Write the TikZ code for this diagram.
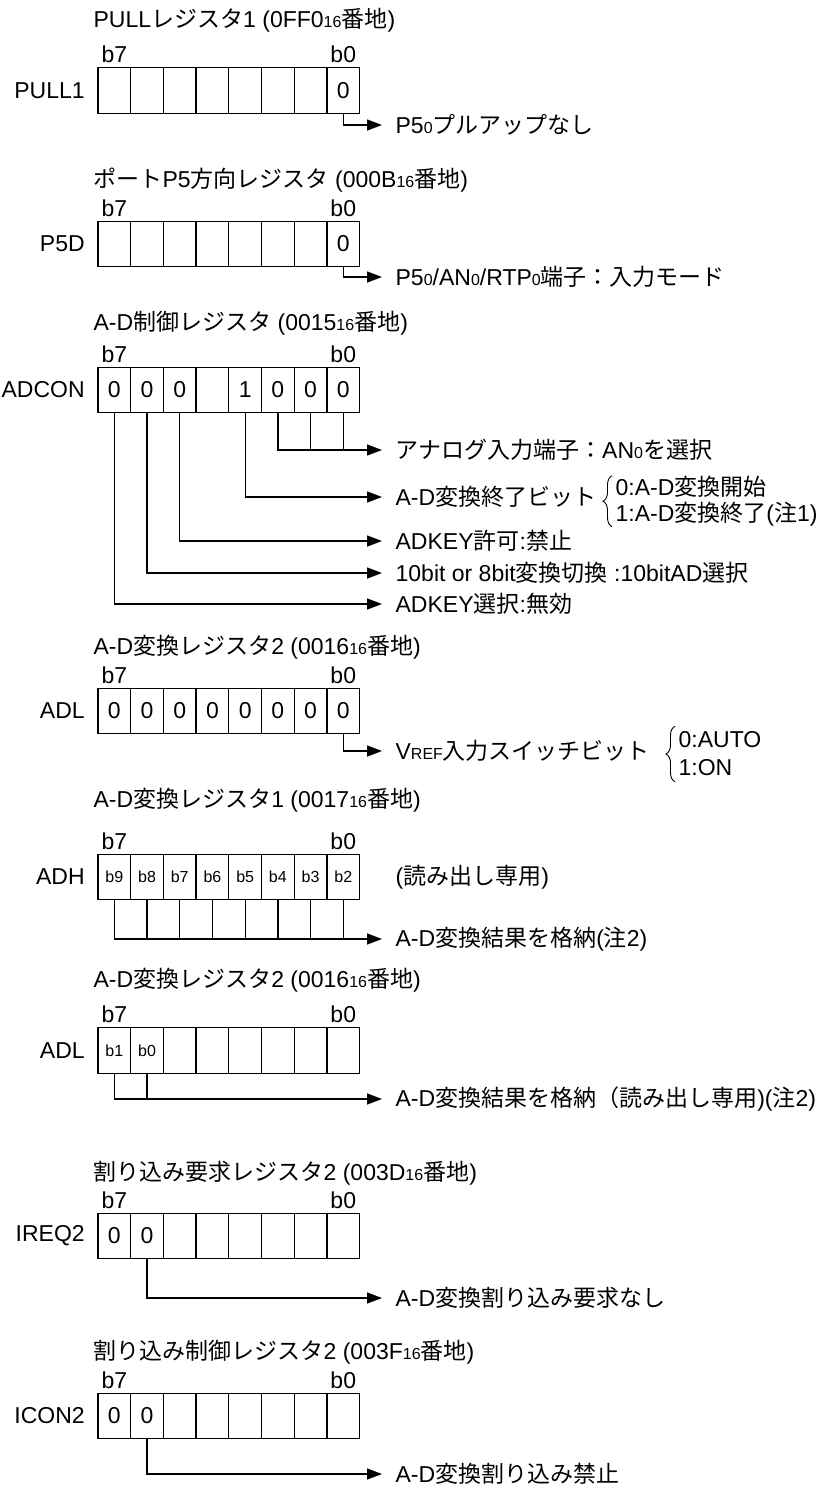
\documentclass[tikz,border=0pt]{standalone}
\usepackage{fontspec}
\setmainfont{Liberation Sans}
\newfontfamily\jp{Noto Sans CJK JP}
\usetikzlibrary{positioning,arrows.meta,decorations.pathreplacing}
\def\idx#1{{\fontsize{16}{16}\selectfont#1}}
\tikzset{
  cell/.style={draw,minimum width=32.7pt,minimum height=45.5pt,inner sep=0pt},
  bits/.style={font=\fontsize{16}{16}\selectfont},
  reg/.style={inner sep=0pt},
  title/.style={anchor=west,inner sep=0pt},
  note/.style={anchor=west,inner xsep=13pt,inner ysep=0pt},
  opt/.style={anchor=west,inner sep=0pt},
  arr/.style={-{Triangle[length=15pt,width=11pt]}},
  brc/.style={decorate,decoration={brace,amplitude=9pt},line width=0.9pt},
}

\begin{document}
\begin{tikzpicture}[x=1pt,y=-1pt,line width=1.3pt,font=\fontsize{23}{26}\selectfont]%<<<
\useasboundingbox (0,0) rectangle (819,1488);

% PULL1
\node[title] (pull-t) at (93,20) {PULL{\jp レジスタ}1 (0FF0\idx{16}{\jp 番地})};
\foreach \v [count=\i from 0] in {{},{},{},{},{},{},{},0}
  \node[cell] (pull-\i) at (114.35+32.7*\i,90.5) {\v};
\node[reg,left=12pt of pull-0] (pull-n) {PULL1};
\node[above=0pt of pull-0] (pull-b7) {b7};
\node[above=0pt of pull-7] (pull-b0) {b0};
\node[note] (pull-up) at (382,125) {P5\idx{0}{\jp プルアップなし}};
\draw[arr] (pull-7.south) |- (pull-up.west);

% P5D
\node[title] (p5d-t) at (93,180) {{\jp ポート}P5{\jp 方向レジスタ} (000B\idx{16}{\jp 番地})};
\foreach \v [count=\i from 0] in {{},{},{},{},{},{},{},0}
  \node[cell] (p5d-\i) at (114.35+32.7*\i,244) {\v};
\node[reg,left=12pt of p5d-0] (p5d-n) {P5D};
\node[above=0pt of p5d-0] (p5d-b7) {b7};
\node[above=0pt of p5d-7] (p5d-b0) {b0};
\node[note] (p5d-in) at (382,277) {P5\idx{0}/AN\idx{0}/RTP\idx{0}{\jp 端子：入力モード}};
\draw[arr] (p5d-7.south) |- (p5d-in.west);

% ADCON
\node[title] (adcon-t) at (93,323) {A-D{\jp 制御レジスタ} (0015\idx{16}{\jp 番地})};
\foreach \v [count=\i from 0] in {0,0,0,{},1,0,0,0}
  \node[cell] (adcon-\i) at (114.35+32.7*\i,390) {\v};
\node[reg,left=12pt of adcon-0] (adcon-n) {ADCON};
\node[above=0pt of adcon-0] (adcon-b7) {b7};
\node[above=0pt of adcon-7] (adcon-b0) {b0};
\node[note] (adcon-ana) at (382,450) {{\jp アナログ入力端子：}AN\idx{0}{\jp を選択}};
\node[note] (adcon-end) at (382,497) {A-D{\jp 変換終了ビット}};
\node[opt] (adcon-start) at (615,487) {0:A-D{\jp 変換開始}};
\node[opt] (adcon-done) at (615,514) {1:A-D{\jp 変換終了}({\jp 注}1)};
\node[note] (adcon-key) at (382,541) {ADKEY{\jp 許可}:{\jp 禁止}};
\node[note] (adcon-bit) at (382,573) {10bit or 8bit{\jp 変換切換}\ :10bitAD{\jp 選択}};
\node[note] (adcon-sel) at (382,604) {ADKEY{\jp 選択}:{\jp 無効}};
\draw[arr] (adcon-5.south) |- (adcon-ana.west);
\foreach \i in {6,7}
  \draw (adcon-\i.south) -- (adcon-\i.south |- adcon-ana.west);
\draw[arr] (adcon-4.south) |- (adcon-end.west);
\draw[arr] (adcon-2.south) |- (adcon-key.west);
\draw[arr] (adcon-1.south) |- (adcon-bit.west);
\draw[arr] (adcon-0.south) |- (adcon-sel.west);
\draw[brc] ([xshift=-3pt]adcon-done.south west) -- ([xshift=-3pt]adcon-start.north west);

% ADL
\node[title] (adl-t) at (93,647) {A-D{\jp 変換レジスタ}2 (0016\idx{16}{\jp 番地})};
\foreach \v [count=\i from 0] in {0,0,0,0,0,0,0,0}
  \node[cell] (adl-\i) at (114.35+32.7*\i,711) {\v};
\node[reg,left=12pt of adl-0] (adl-n) {ADL};
\node[above=0pt of adl-0] (adl-b7) {b7};
\node[above=0pt of adl-7] (adl-b0) {b0};
\node[note] (adl-vref) at (382,751) {V\idx{REF}{\jp 入力スイッチビット}};
\node[opt] (adl-auto) at (678,740) {0:AUTO};
\node[opt] (adl-on) at (678,768) {1:ON};
\draw[arr] (adl-7.south) |- (adl-vref.west);
\draw[brc] ([xshift=-3pt,yshift=-5pt]adl-on.south west) -- ([xshift=-3pt,yshift=5pt]adl-auto.north west);

% ADH
\node[title] (adh-t) at (93,800) {A-D{\jp 変換レジスタ}1 (0017\idx{16}{\jp 番地})};
\foreach \v [count=\i from 0] in {b9,b8,b7,b6,b5,b4,b3,b2}
  \node[cell,bits] (adh-\i) at (114.35+32.7*\i,877) {\v};
\node[reg,left=12pt of adh-0] (adh-n) {ADH};
\node[above=0pt of adh-0] (adh-b7) {b7};
\node[above=0pt of adh-7] (adh-b0) {b0};
\node[note] (adh-ro) at (382,877) {({\jp 読み出し専用})};
\node[note] (adh-res) at (382,939) {A-D{\jp 変換結果を格納}({\jp 注}2)};
\draw[arr] (adh-0.south) |- (adh-res.west);
\foreach \i in {1,...,7}
  \draw (adh-\i.south) -- (adh-\i.south |- adh-res.west);

% ADL (b1, b0)
\node[title] (adl2-t) at (93,980) {A-D{\jp 変換レジスタ}2 (0016\idx{16}{\jp 番地})};
\foreach \v [count=\i from 0] in {b1,b0,{},{},{},{},{},{}}
  \node[cell,bits] (adl2-\i) at (114.35+32.7*\i,1050.5) {\v};
\node[reg,left=12pt of adl2-0] (adl2-n) {ADL};
\node[above=0pt of adl2-0] (adl2-b7) {b7};
\node[above=0pt of adl2-7] (adl2-b0) {b0};
\node[note] (adl2-res) at (382,1099) {A-D{\jp 変換結果を格納（読み出し専用})({\jp 注}2)};
\draw[arr] (adl2-0.south) |- (adl2-res.west);
\draw (adl2-1.south) -- (adl2-1.south |- adl2-res.west);

% IREQ2
\node[title] (ireq-t) at (93,1173) {{\jp 割り込み要求レジスタ}2 (003D\idx{16}{\jp 番地})};
\foreach \v [count=\i from 0] in {0,0,{},{},{},{},{},{}}
  \node[cell] (ireq-\i) at (114.35+32.7*\i,1236) {\v};
\node[reg,left=12pt of ireq-0] (ireq-n) {IREQ2};
\node[above=0pt of ireq-0] (ireq-b7) {b7};
\node[above=0pt of ireq-7] (ireq-b0) {b0};
\node[note] (ireq-req) at (382,1298) {A-D{\jp 変換割り込み要求なし}};
\draw[arr] (ireq-1.south) |- (ireq-req.west);

% ICON2
\node[title] (icon-t) at (93,1352) {{\jp 割り込み制御レジスタ}2 (003F\idx{16}{\jp 番地})};
\foreach \v [count=\i from 0] in {0,0,{},{},{},{},{},{}}
  \node[cell] (icon-\i) at (114.35+32.7*\i,1416) {\v};
\node[reg,left=12pt of icon-0] (icon-n) {ICON2};
\node[above=0pt of icon-0] (icon-b7) {b7};
\node[above=0pt of icon-7] (icon-b0) {b0};
\node[note] (icon-dis) at (382,1474) {A-D{\jp 変換割り込み禁止}};
\draw[arr] (icon-1.south) |- (icon-dis.west);
\end{tikzpicture}
\end{document}
